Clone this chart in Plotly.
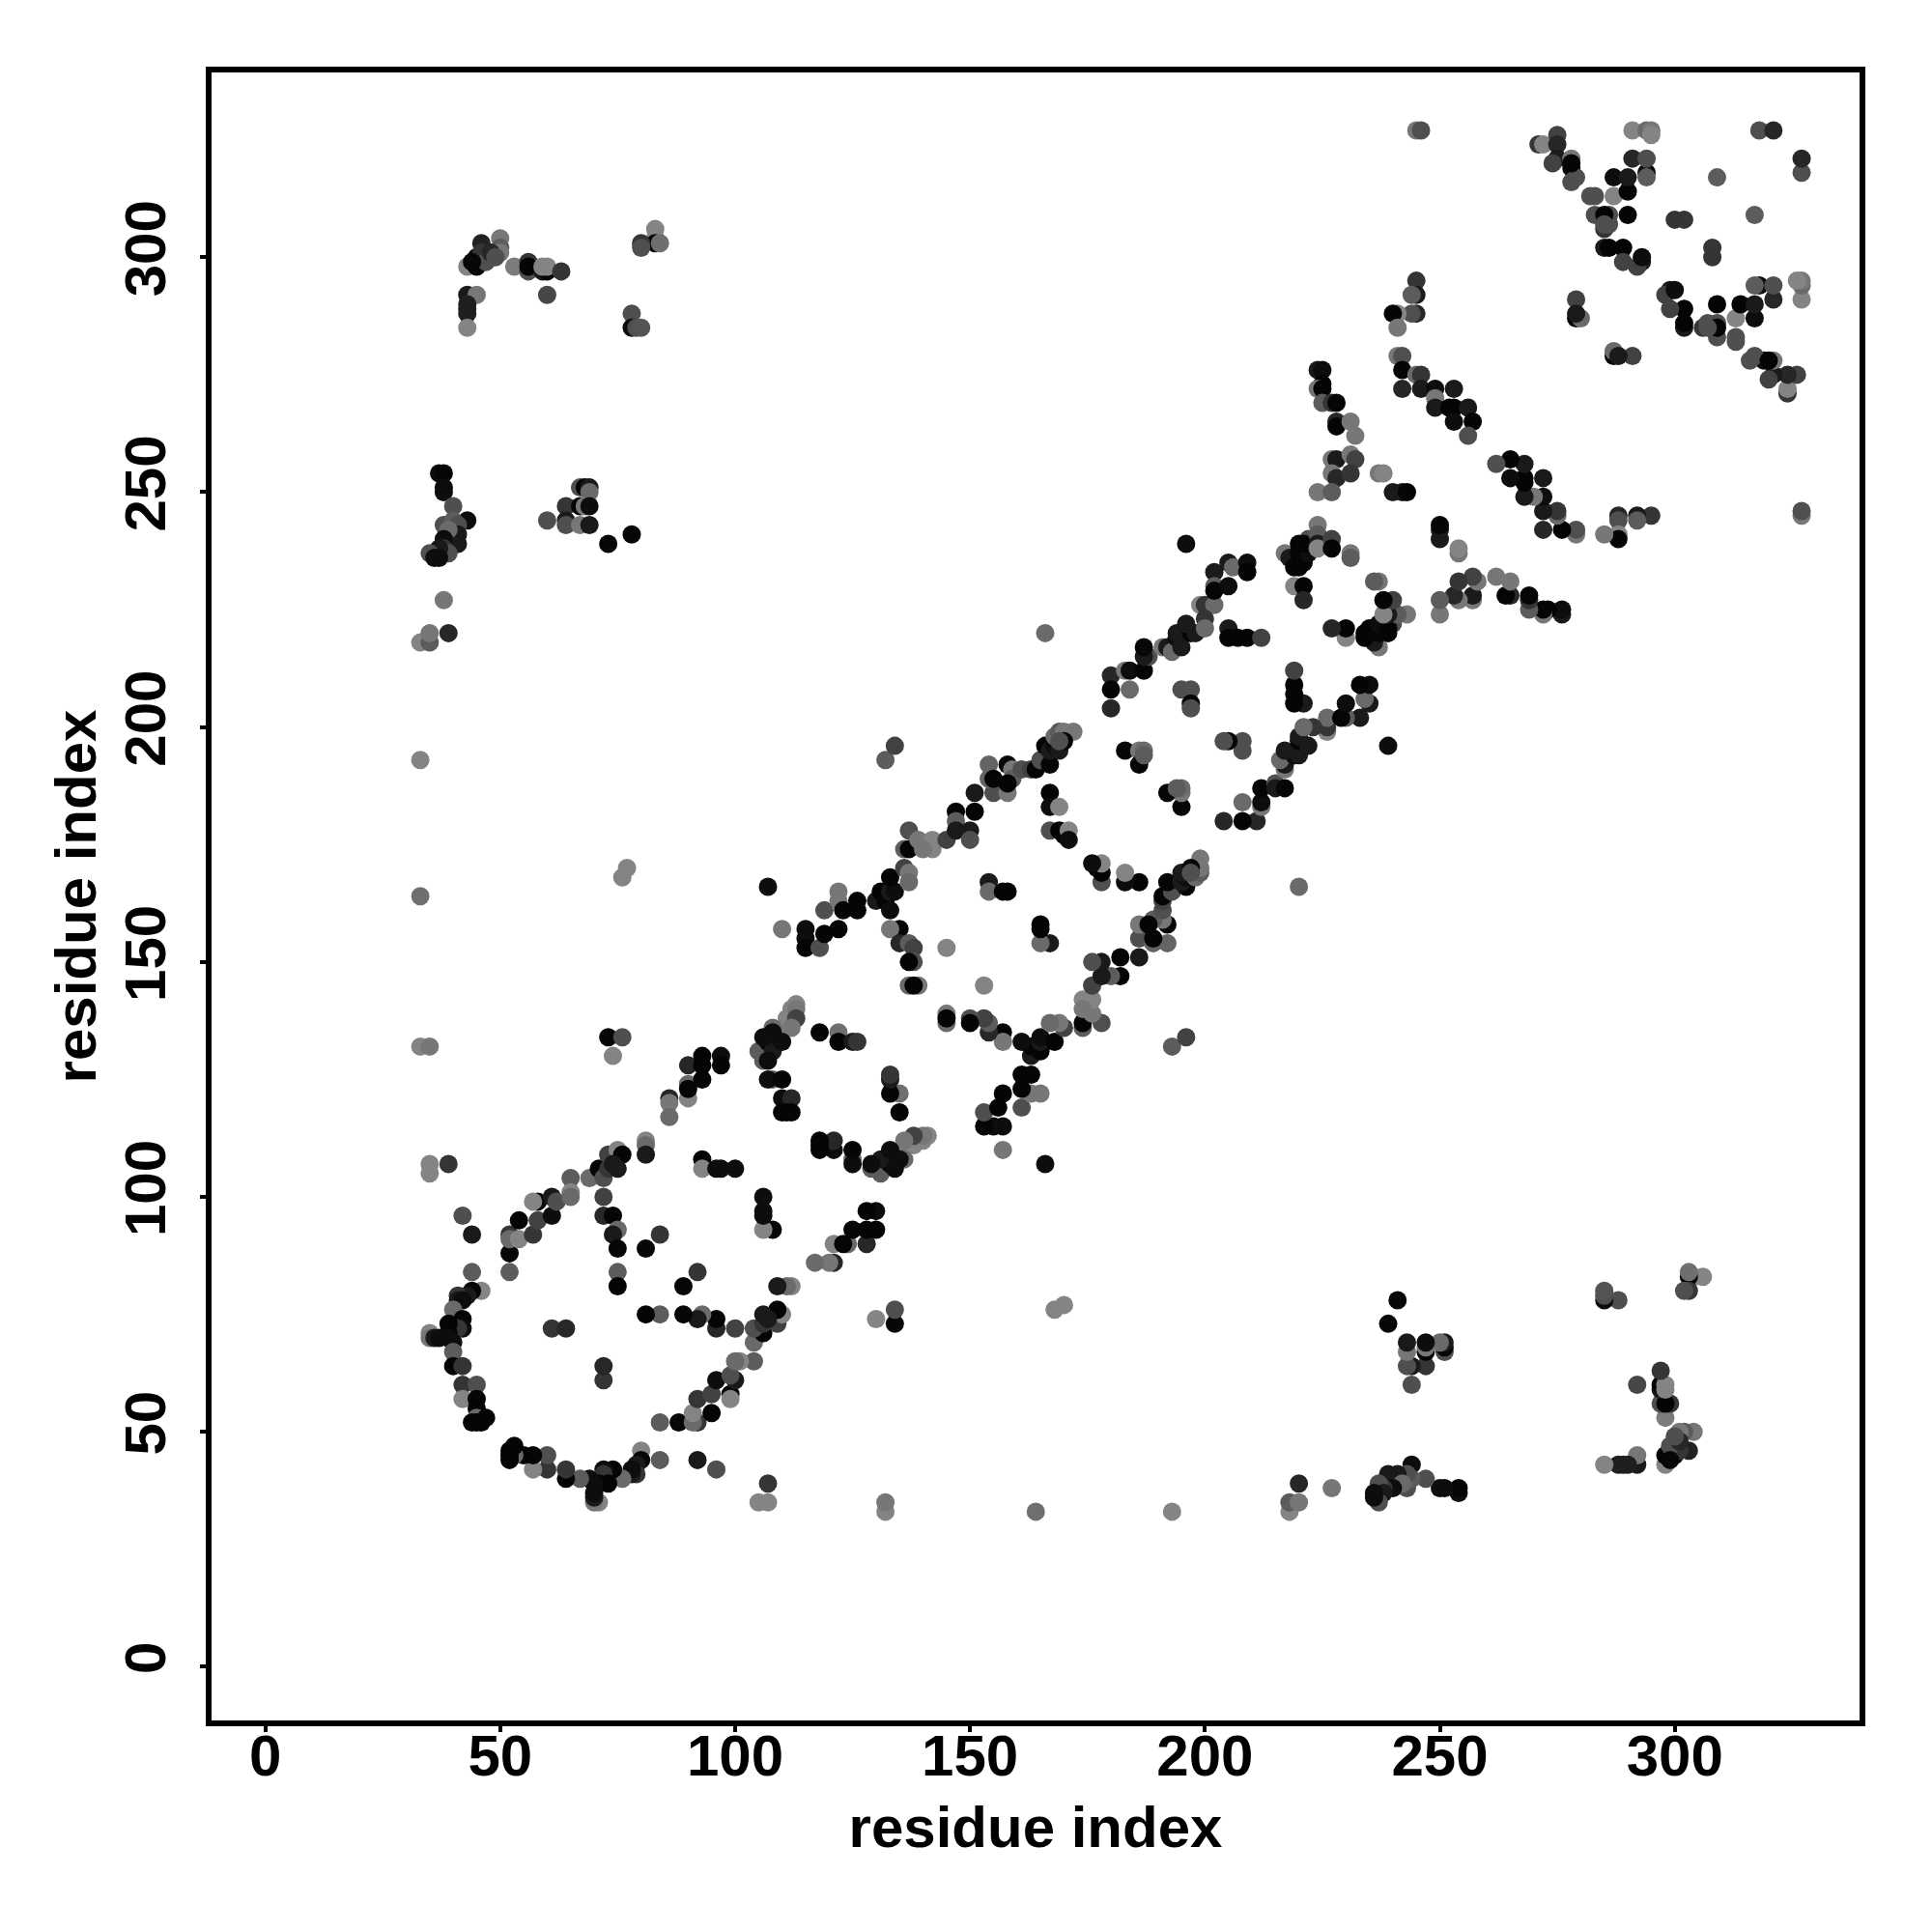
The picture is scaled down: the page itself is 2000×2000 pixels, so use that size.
import plotly.graph_objects as go

# Contact pairs: (lower residue, higher residue, gray shade)
contacts = [
(33,193,.5),(33,164,.42),(77,170,.5),(76,168,.5),(107,166,.05),(110,157,.45),(33,132,.5),(35,132,.45),(73,134,.03),(76,134,.3),(74,130,.5),
(35,107,.5),(35,105,.5),(39,107,.2),(33,218,.5),(35,218,.35),(35,220,.45),(39,220,.15),(38,227,.45),
(166,220,.4),(132,193,.35),(134,196,.25),(196,239,.05),
(43,298,.5),(46,303,.13),(50,304,.45),(50,302,.35),(50,301,.45),(45,298,.02),(45,300,.02),(46,301,.2),(47,299,.3),(48,301,.15),(49,300,.3),(44,299,.03),(53,298,.47),(56,299,.2),(56,297,.3),(56,298,.02),(59,297,.1),(60,297,.02),(59,298,.5),(60,298,.5),(63,297,.2),(60,292,.27),(43,292,.1),(45,292,.45),(43,290,.12),(43,289,.12),(43,288,.12),(43,285,.5),
(83,306,.5),(83,304,.5),(83,303,.02),(84,303,.42),(80,303,.2),(80,302,.3),(78,288,.3),(78,285,.05),(79,285,.3),(80,285,.32),
(37,254,.05),(38,254,.02),(38,251,.05),(38,250,.05),(40,247,.3),(43,244,.05),(38,243,.3),(40,244,.35),(41,243,.3),(41,241,.1),(41,239,.1),(40,240,.1),(39,242,.4),(38,240,.05),(38,238,.2),(39,237,.3),(37,238,.1),(36,237,.1),(35,237,.3),(37,236,.05),(36,236,.05),
(67,251,.3),(68,251,.02),(69,251,.1),(69,250,.4),(64,247,.2),(67,247,.02),(68,247,.45),(69,247,.05),(60,244,.3),(64,244,.1),(64,243,.3),(67,243,.45),(69,243,.1),(73,239,.03),(78,241,.03),
(42,96,.3),(44,92,.1),(44,84,.35),(46,80,.5),(44,80,.03),(43,79,.1),(41,79,.2),(41,78,.1),(42,78,.05),(40,76,.4),(42,74,.02),(42,72,.05),(41,72,.2),(39,73,.02),(39,71,.02),(35,71,.5),(35,70,.45),(36,70,.1),(37,70,.05),(39,70,.05),(40,69,.05),(40,67,.35),(40,64,.02),(42,64,.2),(42,60,.2),(45,60,.3),(42,57,.5),(45,57,.02),(45,55,.02),(45,53,.4),(44,52,.02),(47,53,.02),(46,52,.02),(45,52,.02),
(52,84,.35),(52,88,.03),(52,92,.2),(52,91,.4),(54,91,.5),(57,92,.2),(54,95,.02),(58,95,.25),(61,96,.05),(58,99,.02),(57,99,.5),(61,100,.1),(62,99,.3),(65,104,.35),(65,101,.5),(65,100,.4),(69,104,.4),(71,106,.02),(72,104,.3),(73,106,.2),(73,109,.25),(75,110,.5),(76,109,.02),(74,107,.1),(75,106,.1),(81,112,.5),(81,111,.4),(81,109,.1),
(86,121,.15),(86,120,.45),(86,117,.4),(90,121,.5),(90,124,.4),(90,123,.02),(90,128,.15),(93,125,.03),(93,128,.02),(93,130,.02),(97,130,.05),(97,128,.02),
(105,131,.35),(107,133,.02),(108,131,.1),(106,129,.35),(107,129,.05),(109,135,.45),(111,138,.5),(112,140,.5),(113,141,.5),(113,140,.45),(113,138,.25),(112,136,.45),(108,136,.4),(106,134,.05),(110,133,.05),(108,135,.05),
(108,125,.4),(107,125,.05),(110,125,.02),(110,121,.05),(112,121,.15),(111,118,.02),(110,118,.02),(112,118,.02),
(118,135,.02),(122,135,.42),(122,133,.02),(125,133,.1),(126,133,.2),
(72,100,.25),(72,96,.15),(74,96,.02),(75,93,.4),(74,92,.1),(75,89,.03),(81,89,.03),(84,92,.2),(75,84,.35),(75,81,.02),(93,108,.02),(93,106,.5),(96,106,.05),(97,106,.05),(100,106,.05),(61,72,.2),(64,72,.15),
(115,157,.05),(115,155,.05),(115,153,.02),(118,153,.3),(119,161,.3),(119,156,.02),(122,165,.45),(122,163,.45),(122,157,.02),(123,161,.02),(126,163,.02),(126,161,.02),
(130,163,.1),(132,163,.02),(131,165,.02),(133,165,.1),(134,165,.05),(133,168,.02),(133,161,.05),(136,170,.25),(137,169,.45),(137,167,.4),(136,174,.35),(137,174,.02),(137,178,.3),(139,176,.45),(142,176,.5),(142,174,.5),(140,174,.45),(145,176,.25),(147,182,.02),(147,180,.35),(147,178,.1),(150,178,.1),(150,176,.3),(151,186,.1),(151,182,.02),(155,186,.3),(158,186,.45),(154,192,.38),(154,189,.38),(155,189,.02),(158,192,.03),(159,191,.45),(159,189,.35),(158,188,.02),(161,191,.3),(163,191,.25),(164,191,.02),(165,193,.3),(167,192,.02),(166,196,.02),(167,195,.1),(168,196,.05),(169,195,.1),(168,198,.4),(169,199,.35),(170,199,.45),(172,199,.45),(170,197,.02),(169,197,.3),
(135,157,.02),(133,157,.45),(135,154,.15),(137,154,.35),(138,153,.25),(138,150,.3),(137,150,.02),(137,145,.4),(139,145,.45),(138,145,.02),(145,153,.5),(154,167,.1),(154,165,.4),(157,165,.02),(158,165,.02),
(167,186,.02),(167,183,.05),(169,183,.5),(167,178,.3),(169,178,.02),(170,177,.02),(171,178,.5),(171,176,.05),(183,195,.03),(186,195,.45),(187,195,.4),(186,192,.02),(187,194,.35),
(180,211,.15),(180,208,.02),(180,204,.15),(183,212,.45),(184,212,.05),(187,212,.02),(184,208,.4),(188,215,.3),(187,215,.1),(187,217,.03),(191,217,.45),(192,217,.1),(193,216,.4),(194,219,.05),(195,217,.1),(194,220,.1),(197,220,.02),(198,220,.1),(196,222,.1),(199,226,.5),(200,226,.2),(202,226,.4),(200,223,.2),(200,221,.4),(202,233,.1),(202,230,.35),(202,229,.02),(205,235,.1),(206,234,.4),(205,230,.05),(209,235,.05),(209,233,.02),
(195,208,.3),(197,208,.3),(197,205,.02),(197,204,.3),(205,221,.1),(205,219,.02),(207,219,.02),(209,219,.02),(212,219,.25),
(217,237,.45),(218,236,.1),(219,234,.02),(220,239,.02),(220,237,.02),(220,234,.02),(221,235,.02),(222,237,.05),(222,240,.3),(221,239,.02),(224,243,.45),(224,241,.35),(224,239,.1),(224,238,.5),(227,240,.25),(227,238,.02),(231,237,.45),(231,236,.35),
(219,230,.5),(221,230,.02),(221,227,.15),
(224,276,.1),(225,276,.05),(225,273,.02),(224,272,.45),(225,272,.02),(225,269,.35),(227,269,.2),(228,269,.02),(228,265,.15),(228,264,.02),(231,265,.45),(232,262,.45),(227,257,.45),(228,257,.1),(231,258,.45),(232,257,.25),(227,254,.45),(228,253,.15),(231,254,.2),(224,250,.45),(227,250,.35),(237,254,.45),(238,254,.5),(240,250,.1),(242,250,.1),(243,250,.02),
(245,295,.2),(245,292,.1),(244,292,.35),(245,288,.15),(244,288,.3),(241,288,.5),(240,288,.02),(241,285,.45),(241,279,.45),(242,279,.3),(242,276,.02),(242,272,.15),(245,275,.4),(246,275,.2),(246,272,.1),(249,272,.05),(249,270,.45),(253,272,.1),(249,268,.1),(252,268,.02),(253,268,.02),(256,268,.1),(253,265,.05),(257,265,.02),(256,262,.3),
(245,327,.45),(246,327,.3),
(271,324,.2),(272,324,.5),(275,326,.25),(275,324,.15),(275,321,.1),(274,320,.25),(278,321,.45),(278,319,.05),(278,316,.3),(279,317,.3),(282,313,.3),(283,313,.3),(287,313,.5),(290,314,.02),(287,317,.05),(290,317,.1),(294,318,.05),(294,317,.35),(291,321,.15),(294,321,.3),(291,327,.5),(294,327,.4),(295,327,.45),(295,326,.5),(318,327,.3),(321,327,.15),(309,317,.35),
(283,309,.3),(286,309,.3),(290,309,.02),(285,306,.2),(286,307,.3),(285,302,.1),(286,302,.02),(289,302,.02),(289,299,.25),(293,299,.1),(292,298,.25),(293,300,.05),
(300,308,.2),(302,308,.2),(279,291,.25),(279,287,.02),(280,287,.4),(279,288,.1),(278,320,.02),(285,309,.02),(285,307,.3),
]

tick_values = [0, 50, 100, 150, 200, 250, 300]
axis_label = "residue index"

low = [c[0] for c in contacts]
high = [c[1] for c in contacts]
shades = [c[2] for c in contacts]

x = low + high
y = high + low
s = shades + shades
colors = [f"rgb({int(v*265)},{int(v*265)},{int(v*265)})" for v in s]

FONT = dict(family="Liberation Sans", size=60, color="black")
FONT_B = "<b>{}</b>"
ticktext = [FONT_B.format(t) for t in tick_values]

axis = dict(
    range=[-11.43, 339.33], tickmode="array", tickvals=tick_values, ticktext=ticktext,
    showgrid=False, zeroline=False, showline=True, mirror=True, linecolor="black", linewidth=6,
    ticks="outside", ticklen=6, tickwidth=3.5, tickcolor="black", tickfont=FONT,
)

fig = go.Figure(go.Scatter(
    x=x, y=y, mode="markers",
    marker=dict(size=19, color=colors, line=dict(width=0)),
    showlegend=False,
))
fig.update_layout(
    width=1984, height=1984, autosize=False,
    margin=dict(l=211, r=67, t=67, b=211, pad=0),
    paper_bgcolor="white", plot_bgcolor="white",
    xaxis=dict(axis, ticklabelstandoff=-27, title=dict(text=FONT_B.format(axis_label), font=FONT, standoff=22), automargin=False),
    yaxis=dict(axis, tickangle=-90, ticklabelstandoff=12, title=dict(text=FONT_B.format(axis_label), font=FONT, standoff=0), automargin=False),
)
fig.write_html("out.html")
